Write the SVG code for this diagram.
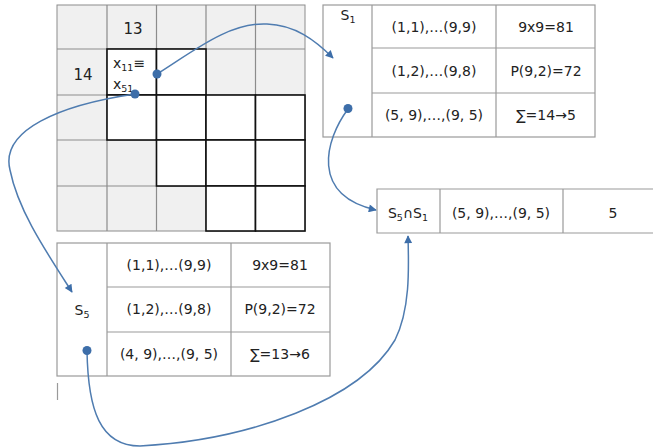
<svg xmlns="http://www.w3.org/2000/svg" width="653" height="448" viewBox="0 0 653 448">
<style>
text{font-family:"DejaVu Sans","Liberation Sans",sans-serif;font-size:14px;fill:#222;text-anchor:middle}
.sub{font-size:9.5px}
.big{font-size:15px}
.g{fill:#f0f0f0;stroke:#8c8c8c;stroke-width:1}
.w{fill:#fff;stroke:#111;stroke-width:1.6}
.t{fill:#fff;stroke:#9a9a9a;stroke-width:1.2}
.tl{stroke:#9a9a9a;stroke-width:1.2;fill:none}
.c{fill:none;stroke:#4f7cb0;stroke-width:1.5}
.d{fill:#3d6ea9}
</style>
<defs>
<marker id="ah" viewBox="0 0 10 10" refX="9" refY="5" markerWidth="10" markerHeight="8" markerUnits="userSpaceOnUse" orient="auto">
<path d="M0,0 L10,5 L0,10 z" fill="#3d6ea9"/>
</marker>
</defs>
<g id="grid">
<rect class="g" x="57" y="5" width="248" height="226"/>
<path class="tl" style="stroke:#8c8c8c" d="M107,5V231M156.5,5V231M206,5V231M255.5,5V231M57,49H305M57,95H305M57,140H305M57,186H305"/>
<rect class="w" x="107" y="49" width="49.5" height="46"/>
<rect class="w" x="156.5" y="49" width="49.5" height="46"/>
<rect class="w" x="107" y="95" width="49.5" height="45"/>
<rect class="w" x="156.5" y="95" width="49.5" height="45"/>
<rect class="w" x="206" y="95" width="49.5" height="45"/>
<rect class="w" x="255.5" y="95" width="49.5" height="45"/>
<rect class="w" x="156.5" y="140" width="49.5" height="46"/>
<rect class="w" x="206" y="140" width="49.5" height="46"/>
<rect class="w" x="255.5" y="140" width="49.5" height="46"/>
<rect class="w" x="206" y="186" width="49.5" height="45"/>
<rect class="w" x="255.5" y="186" width="49.5" height="45"/>
<text class="big" x="133" y="34">13</text>
<text class="big" x="83" y="80">14</text>
<text x="113" y="68" style="text-anchor:start">x<tspan class="sub" dy="3">11</tspan><tspan dy="-3">≡</tspan></text>
<text x="113" y="89" style="text-anchor:start">x<tspan class="sub" dy="3">51</tspan></text>
</g>
<g id="s1">
<rect class="t" x="323" y="5" width="272" height="132"/>
<path class="tl" d="M372,5V137M496,5V137M372,48H595M372,93H595"/>
<text x="348" y="20">S<tspan class="sub" dy="3">1</tspan></text>
<text x="434" y="32">(1,1),…(9,9)</text>
<text x="546" y="32">9x9=81</text>
<text x="434" y="76">(1,2),…(9,8)</text>
<text x="546" y="76">P(9,2)=72</text>
<text x="434" y="120">(5, 9),…,(9, 5)</text>
<text x="546" y="120">∑=14→5</text>
</g>
<g id="s5s1">
<path class="tl" d="M653,189H377V233H653M440,189V233M563,189V233"/>
<text x="408" y="218">S<tspan class="sub" dy="3">5</tspan><tspan dy="-3">∩S</tspan><tspan class="sub" dy="3">1</tspan></text>
<text x="501" y="218">(5, 9),…,(9, 5)</text>
<text x="613" y="218">5</text>
</g>
<g id="s5">
<rect class="t" x="57" y="243" width="273" height="133"/>
<path class="tl" d="M107,243V376M231,243V376M107,287H330M107,332H330"/>
<text x="82" y="315">S<tspan class="sub" dy="3">5</tspan></text>
<text x="169" y="270">(1,1),…(9,9)</text>
<text x="280" y="270">9x9=81</text>
<text x="169" y="314">(1,2),…(9,8)</text>
<text x="280" y="314">P(9,2)=72</text>
<text x="169" y="359">(4, 9),…,(9, 5)</text>
<text x="280" y="359">∑=13→6</text>
<path class="tl" d="M57.5,383V400"/>
</g>
<g id="connectors">
<path class="c" marker-end="url(#ah)" d="M157,74 C195,50 230,22 267,24 C295,25 315,40 333,58"/>
<path class="c" marker-end="url(#ah)" d="M135,94 C60,105 0,130 10,170 C18,210 45,250 72,292"/>
<path class="c" marker-end="url(#ah)" d="M348,109 C325,140 310,195 376,210"/>
<path class="c" marker-end="url(#ah)" d="M87,351 C88,410 100,446 140,446 C250,440 360,400 395,340 C410,310 409,270 408,236"/>
<circle class="d" cx="157" cy="74" r="4.5"/>
<circle class="d" cx="135" cy="94" r="4.5"/>
<circle class="d" cx="348" cy="108.5" r="4.5"/>
<circle class="d" cx="87" cy="350.5" r="4.5"/>
</g>
</svg>
